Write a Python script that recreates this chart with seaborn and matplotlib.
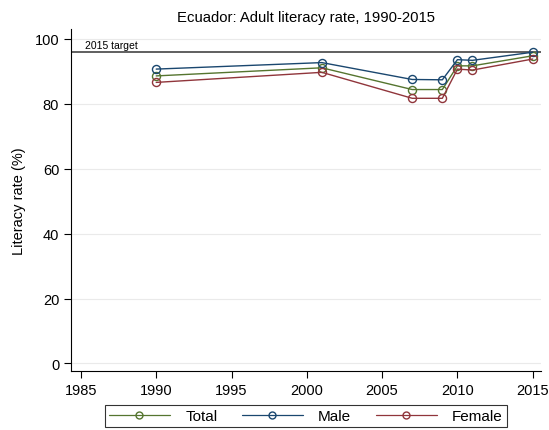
import matplotlib
matplotlib.use("Agg")
import matplotlib.pyplot as plt
import seaborn as sns
import pandas as pd
from matplotlib.lines import Line2D

years = [1990, 2001, 2007, 2009, 2010, 2011, 2015]
total = [88.6, 91.1, 84.4, 84.4, 91.7, 91.7, 94.8]
male = [90.7, 92.7, 87.5, 87.4, 93.6, 93.4, 95.9]
female = [86.6, 89.7, 81.7, 81.7, 90.7, 90.4, 93.8]
target = 95.9
series_names = ["Total", "Male", "Female"]
colors = {"Total": "#55752f", "Male": "#1a476f", "Female": "#90353b"}

rows = []
for name, vals in zip(series_names, [total, male, female]):
    for y, v in zip(years, vals):
        rows.append({"Year": y, "Rate": v, "Series": name})
df = pd.DataFrame(rows)

sns.set_style("white")
plt.rcParams['font.family'] = ['Liberation Sans', 'DejaVu Sans']
plt.rcParams['text.color'] = 'black'
plt.rcParams['axes.labelcolor'] = 'black'
plt.rcParams['xtick.color'] = 'black'
plt.rcParams['ytick.color'] = 'black'

fig = plt.figure(figsize=(5.49, 4.31), dpi=100)
ax = fig.add_axes([0.1293, 0.137, 0.8561, 0.793])

sns.lineplot(data=df, x="Year", y="Rate", hue="Series", hue_order=series_names,
             palette=colors, marker="o", markersize=5.8, markerfacecolor="none",
             markeredgewidth=1.0, linewidth=1.0, legend=False, ax=ax)
for line in ax.lines:
    line.set_markerfacecolor("none")
    line.set_markeredgecolor(line.get_color())

ax.axhline(target, color="#444444", linewidth=1.2, zorder=1)
ax.text(1985.3, target + 0.6, "2015 target", fontsize=7.5, ha="left", va="bottom",
        color="black")

ax.set_xlim(1984.34, 2015.55)
ax.set_ylim(-2.3, 103)
ax.set_xticks([1985, 1990, 1995, 2000, 2005, 2010, 2015])
ax.set_yticks([0, 20, 40, 60, 80, 100])
ax.yaxis.grid(True, color="#eaeaea", linewidth=0.8)
ax.xaxis.grid(False)
for s in ["top", "right"]:
    ax.spines[s].set_visible(False)
for s in ["left", "bottom"]:
    ax.spines[s].set_color("#000000")
    ax.spines[s].set_linewidth(0.8)
ax.tick_params(axis="both", which="both", direction="out", length=5, width=0.8,
               color="black", labelcolor="black", labelsize=10.5, left=True, bottom=True)
ax.set_xlabel("")
ax.set_ylabel("Literacy rate (%)", fontsize=10.5, labelpad=6, color="black")
ax.set_title("Ecuador: Adult literacy rate, 1990-2015", fontsize=10.7, pad=6, color="black")

handles = [Line2D([0], [0], color=colors[n], marker="o", markerfacecolor="none",
                  markersize=5, linewidth=0.9) for n in series_names]
leg = fig.legend(handles, series_names, loc="upper center", bbox_to_anchor=(0.557, 0.057),
                 ncol=3, frameon=True, fancybox=False, fontsize=11, handlelength=4.0,
                 columnspacing=1.6, borderpad=0.25, handletextpad=1.0, borderaxespad=0.0)
leg.get_frame().set_edgecolor("black")
leg.get_frame().set_linewidth(0.8)
for t in leg.get_texts():
    t.set_color("black")

fig.savefig("out.png", dpi=100)
